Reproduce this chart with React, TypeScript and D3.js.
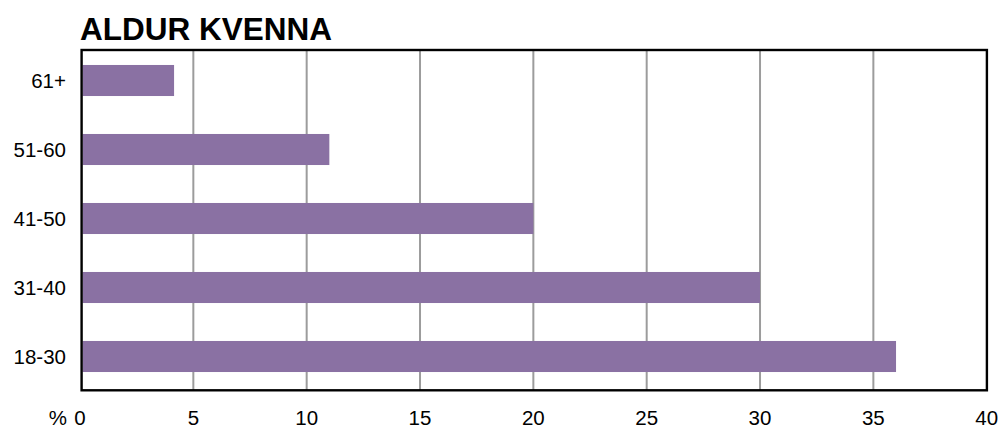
import React from "react";
import * as d3 from "d3";

const categories = ["61+", "51-60", "41-50", "31-40", "18-30"];
const values = [4.15, 11.0, 20.0, 30.0, 36.0];
const xTicks = [0, 5, 10, 15, 20, 25, 30, 35, 40];
const title = "ALDUR KVENNA";

export default function App() {
  const W = 999, H = 428;
  const x = d3.scaleLinear().domain([0, 40]).range([80, 986.7]);
  const y = d3.scaleBand<string>().domain(categories).range([46, 391]).paddingInner(0.55).paddingOuter(0.275);
  const font = "'Liberation Sans', Arial, Helvetica, sans-serif";
  const top = 50, bottom = 390.3;
  return (
    <svg width={W} height={H} style={{ position: "absolute", left: 0, top: 0, background: "#fff" }} fontFamily={font}>
      <text x={80} y={39.5} fontSize={31.5} fontWeight="bold" fill="#000">{title}</text>
      {xTicks.slice(1, -1).map(t => (
        <line key={t} x1={x(t)} x2={x(t)} y1={top} y2={bottom} stroke="#9c9c9c" strokeWidth={2} />
      ))}
      {categories.map((c, i) => (
        <rect key={c} x={x(0) + 2.5} y={y(c)!} width={x(values[i]) - x(0) - 2.5} height={y.bandwidth()} fill="#8a71a3" />
      ))}
      <rect x={81.6} y={top} width={986.9 - 81.6} height={bottom - top} fill="none" stroke="#000" strokeWidth={2.4} />
      {categories.map(c => (
        <text key={c} x={66} y={y(c)! + y.bandwidth() / 2} dy="0.36em" fontSize={20.5} textAnchor="end" fill="#000">{c}</text>
      ))}
      {xTicks.map(t => (
        <text key={t} x={x(t)} y={425} fontSize={20.5} textAnchor="middle" fill="#000">{t}</text>
      ))}
      <text x={67} y={425} fontSize={20.5} textAnchor="end" fill="#000">%</text>
    </svg>
  );
}
